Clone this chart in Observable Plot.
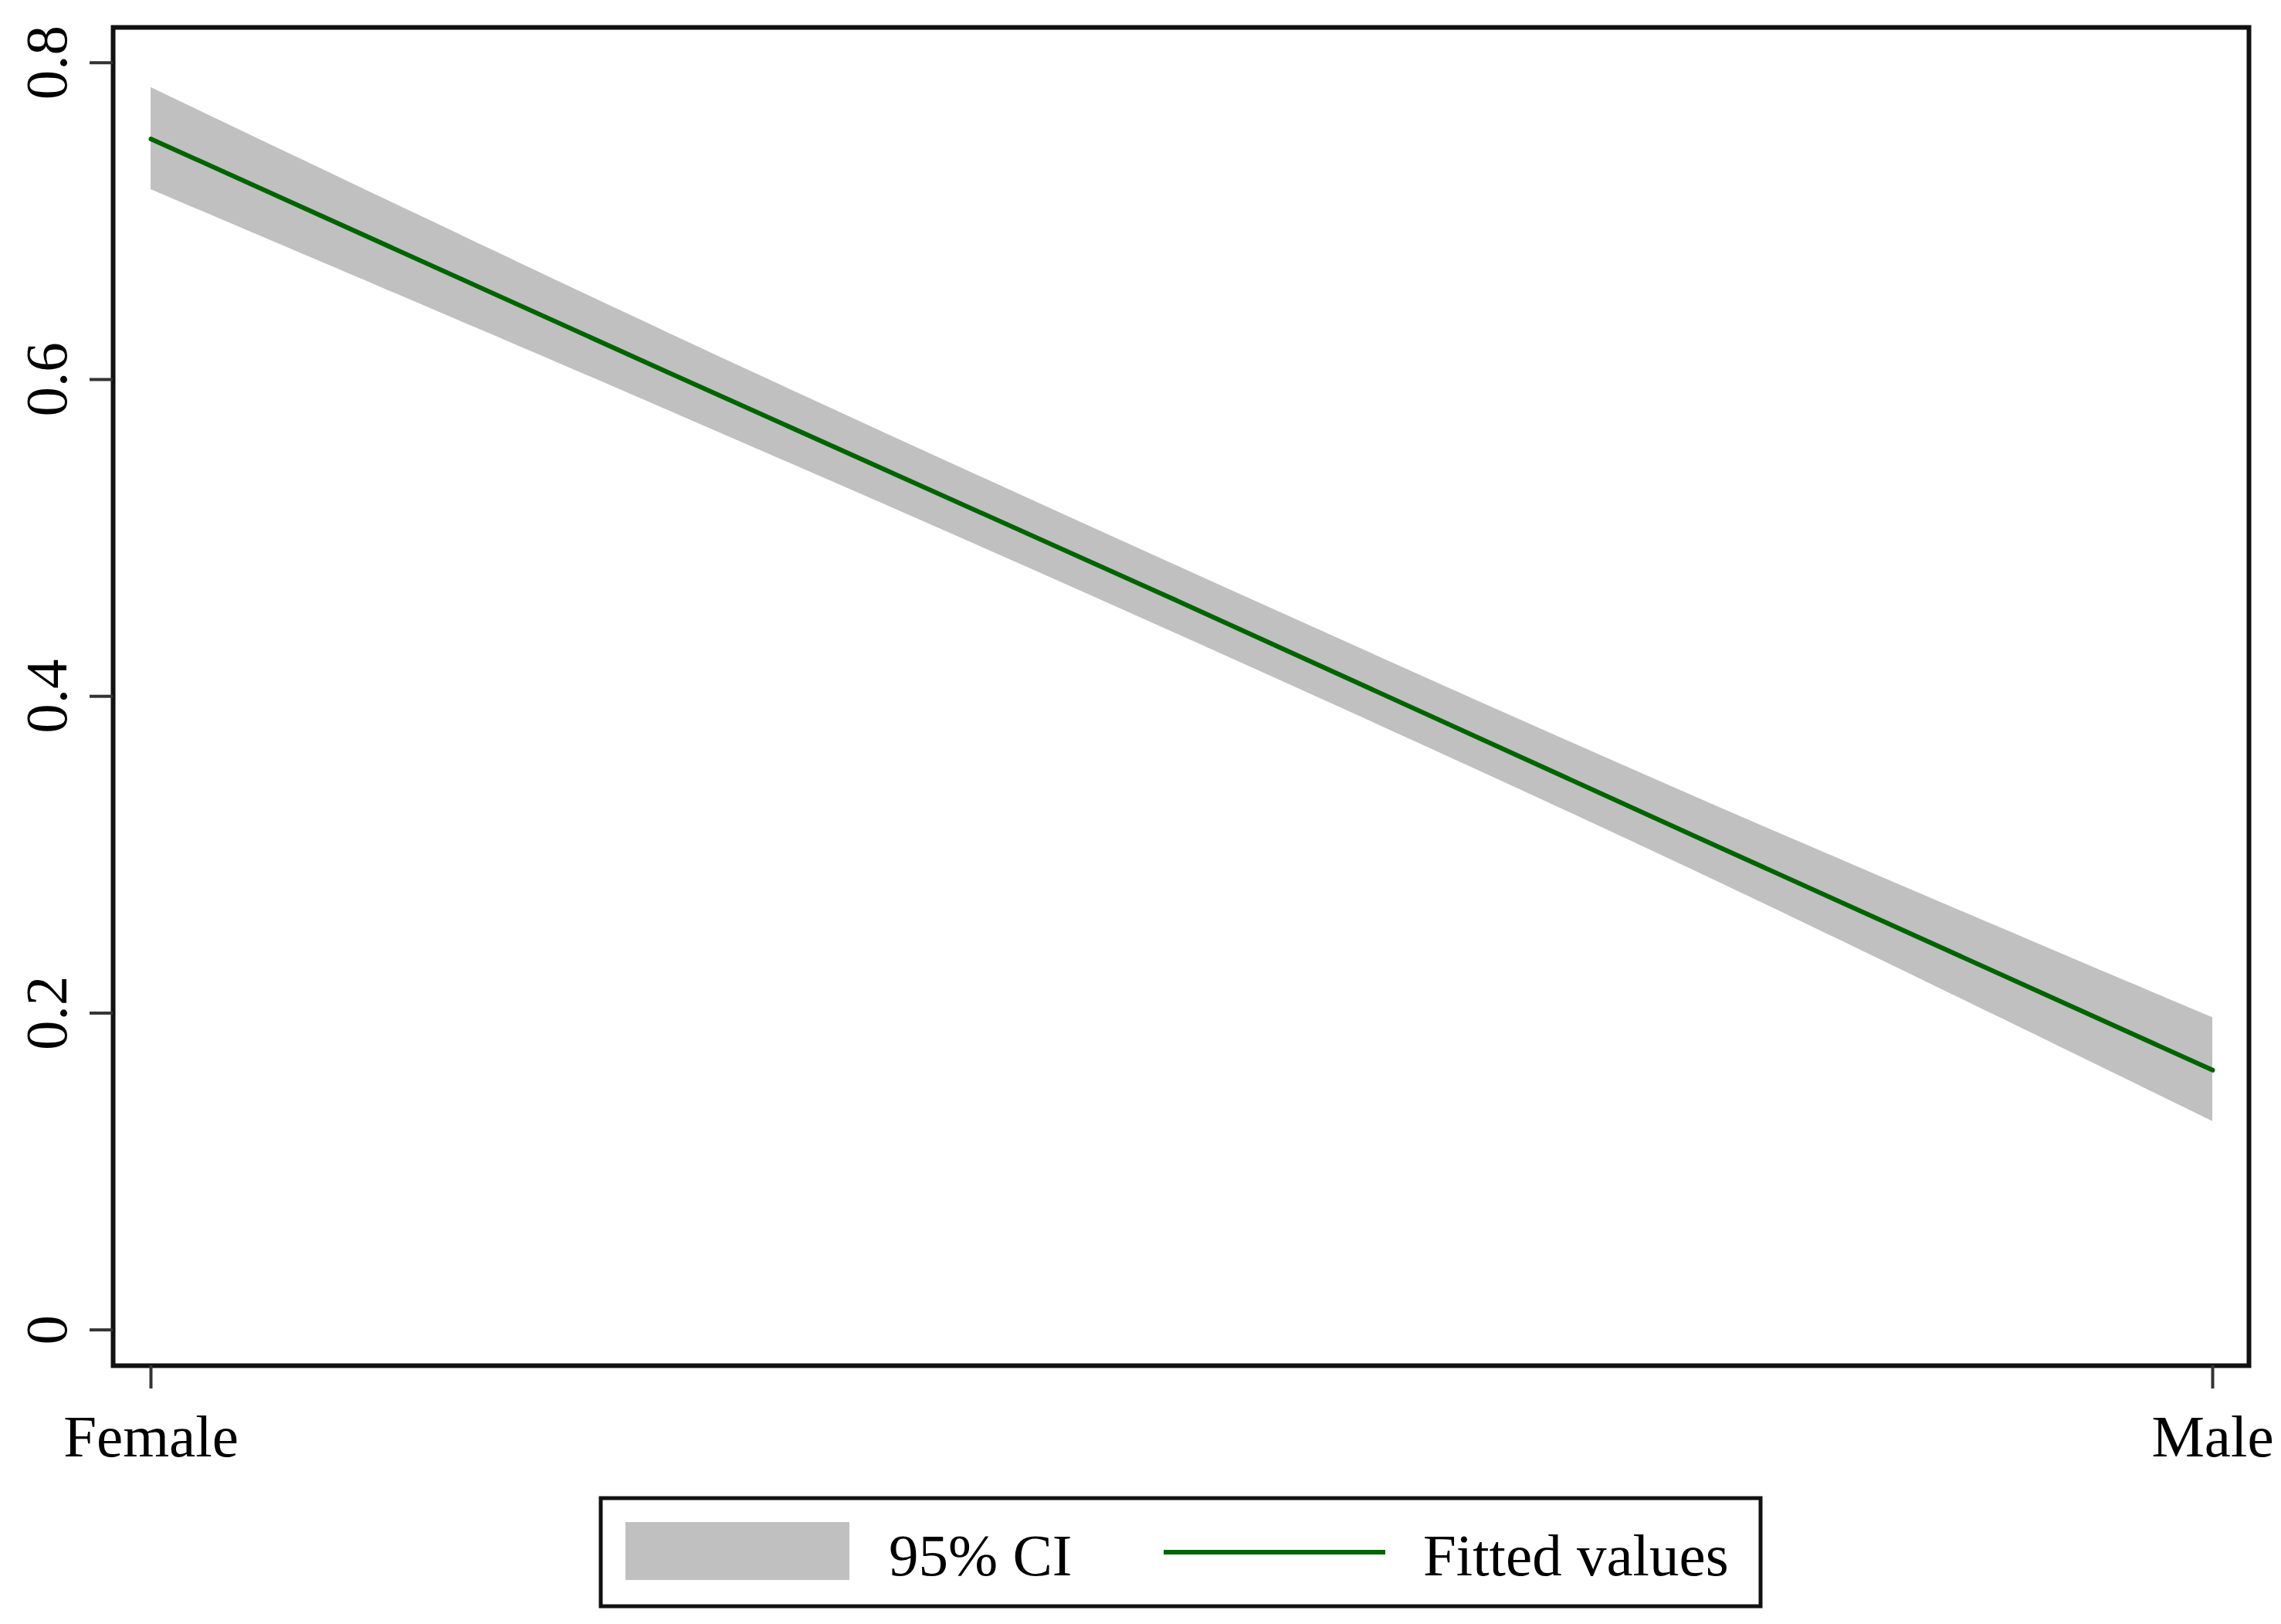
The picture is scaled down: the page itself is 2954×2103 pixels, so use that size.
<!DOCTYPE html>
<html>
<head>
<meta charset="utf-8">
<script src="https://cdn.jsdelivr.net/npm/d3@7"></script>
<script src="https://cdn.jsdelivr.net/npm/@observablehq/plot@0.6"></script>
<style>
  html, body { margin: 0; padding: 0; background: #fff; }
  #wrap { position: relative; width: 2954px; height: 2103px; background: #fff; }
  #legend { position: absolute; left: 0; top: 1930px; }
</style>
</head>
<body>
<div id="wrap"></div>
<script>
// ---- data ----
const xCategories = ["Female", "Male"];
const xTicks = [0, 1];
const xPos = [0, 0.25, 0.5, 0.75, 1];
const fitted = [0.7519, 0.605, 0.459, 0.311, 0.164];
const ciLower = [0.7199, 0.581, 0.438, 0.289, 0.1316];
const ciUpper = [0.7844, 0.630, 0.481, 0.336, 0.1971];
const yTicks = [0, 0.2, 0.4, 0.6, 0.8];
const yTickLabels = ["0", "0.2", "0.4", "0.6", "0.8"];
const legendLabels = ["95% CI", "Fitted values"];

const bandColor = "#c0c0c0";
const lineColor = "#006400";
const font = "'Liberation Serif', 'Times New Roman', serif";

const rows = xPos.map((x, i) => ({x, fit: fitted[i], lo: ciLower[i], hi: ciUpper[i]}));

const chart = Plot.plot({
  width: 2954,
  height: 1930,
  marginLeft: 146,
  marginRight: 42,
  marginTop: 35,
  marginBottom: 162,
  style: {fontFamily: font, fontSize: "77px", color: "#000", background: "#fff"},
  x: {type: "linear", domain: [-0.01835, 1.0176]},
  y: {type: "linear", domain: [-0.0226, 0.8223]},
  marks: [
    Plot.areaY(rows, {x: "x", y1: "lo", y2: "hi", fill: bandColor, curve: "catmull-rom"}),
    Plot.line(rows, {x: "x", y: "fit", stroke: lineColor, strokeWidth: 6}),
    Plot.frame({stroke: "#111", strokeWidth: 6}),
    Plot.axisX(xTicks, {
      tickSize: 30, tickPadding: 33, strokeWidth: 4, stroke: "#333",
      tickFormat: d => xCategories[xTicks.indexOf(d)],
      fontSize: 77, fontFamily: font, label: null
    }),
    Plot.axisY(yTicks, {
      tickSize: 30, tickPadding: 31, strokeWidth: 4, stroke: "#333",
      tickRotate: -90,
      tickFormat: d => yTickLabels[yTicks.indexOf(d)],
      fontSize: 77, fontFamily: font, label: null
    })
  ]
});
document.getElementById("wrap").appendChild(chart);

// ---- legend (below the chart) ----
const ns = "http://www.w3.org/2000/svg";
const lg = document.createElementNS(ns, "svg");
lg.setAttribute("id", "legend");
lg.setAttribute("width", 2954);
lg.setAttribute("height", 173);
lg.setAttribute("font-family", font);
lg.setAttribute("font-size", "77");
function el(tag, attrs, text) {
  const e = document.createElementNS(ns, tag);
  for (const k in attrs) e.setAttribute(k, attrs[k]);
  if (text) e.textContent = text;
  lg.appendChild(e);
  return e;
}
el("rect", {x: 778, y: 10, width: 1502, height: 140, fill: "#fff", stroke: "#111", "stroke-width": 5});
el("rect", {x: 810, y: 41, width: 290, height: 75, fill: bandColor});
el("text", {x: 1151, y: 110, fill: "#000"}, legendLabels[0]);
el("line", {x1: 1507, x2: 1794, y1: 80, y2: 80, stroke: lineColor, "stroke-width": 6});
el("text", {x: 1843, y: 110, fill: "#000"}, legendLabels[1]);
document.getElementById("wrap").appendChild(lg);
</script>
</body>
</html>
